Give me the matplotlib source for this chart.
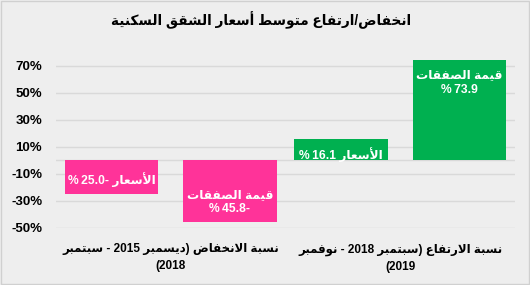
import matplotlib
matplotlib.use("Agg")
import matplotlib.pyplot as plt
from matplotlib.patches import Rectangle

# ---------------- Arabic shaping helpers (matplotlib has no shaping/bidi) ----
_F = {
    '\u0621': (0xFE80,), '\u0622': (0xFE81, 0xFE82), '\u0623': (0xFE83, 0xFE84),
    '\u0624': (0xFE85, 0xFE86), '\u0625': (0xFE87, 0xFE88),
    '\u0626': (0xFE89, 0xFE8A, 0xFE8B, 0xFE8C), '\u0627': (0xFE8D, 0xFE8E),
    '\u0628': (0xFE8F, 0xFE90, 0xFE91, 0xFE92), '\u0629': (0xFE93, 0xFE94),
    '\u062A': (0xFE95, 0xFE96, 0xFE97, 0xFE98), '\u062B': (0xFE99, 0xFE9A, 0xFE9B, 0xFE9C),
    '\u062C': (0xFE9D, 0xFE9E, 0xFE9F, 0xFEA0), '\u062D': (0xFEA1, 0xFEA2, 0xFEA3, 0xFEA4),
    '\u062E': (0xFEA5, 0xFEA6, 0xFEA7, 0xFEA8), '\u062F': (0xFEA9, 0xFEAA),
    '\u0630': (0xFEAB, 0xFEAC), '\u0631': (0xFEAD, 0xFEAE), '\u0632': (0xFEAF, 0xFEB0),
    '\u0633': (0xFEB1, 0xFEB2, 0xFEB3, 0xFEB4), '\u0634': (0xFEB5, 0xFEB6, 0xFEB7, 0xFEB8),
    '\u0635': (0xFEB9, 0xFEBA, 0xFEBB, 0xFEBC), '\u0636': (0xFEBD, 0xFEBE, 0xFEBF, 0xFEC0),
    '\u0637': (0xFEC1, 0xFEC2, 0xFEC3, 0xFEC4), '\u0638': (0xFEC5, 0xFEC6, 0xFEC7, 0xFEC8),
    '\u0639': (0xFEC9, 0xFECA, 0xFECB, 0xFECC), '\u063A': (0xFECD, 0xFECE, 0xFECF, 0xFED0),
    '\u0641': (0xFED1, 0xFED2, 0xFED3, 0xFED4), '\u0642': (0xFED5, 0xFED6, 0xFED7, 0xFED8),
    '\u0643': (0xFED9, 0xFEDA, 0xFEDB, 0xFEDC), '\u0644': (0xFEDD, 0xFEDE, 0xFEDF, 0xFEE0),
    '\u0645': (0xFEE1, 0xFEE2, 0xFEE3, 0xFEE4), '\u0646': (0xFEE5, 0xFEE6, 0xFEE7, 0xFEE8),
    '\u0647': (0xFEE9, 0xFEEA, 0xFEEB, 0xFEEC), '\u0648': (0xFEED, 0xFEEE),
    '\u0649': (0xFEEF, 0xFEF0), '\u064A': (0xFEF1, 0xFEF2, 0xFEF3, 0xFEF4),
}
_LIG = {'\u0622': (0xFEF5, 0xFEF6), '\u0623': (0xFEF7, 0xFEF8),
        '\u0625': (0xFEF9, 0xFEFA), '\u0627': (0xFEFB, 0xFEFC)}


def _shape(s):
    toks = []
    i = 0
    while i < len(s):
        c = s[i]
        if c == '\u0644' and i + 1 < len(s) and s[i + 1] in _LIG:
            toks.append(('L', s[i + 1]))
            i += 2
        else:
            toks.append(('C', c))
            i += 1

    def jn(t):
        return t[0] == 'C' and t[1] in _F and len(_F[t[1]]) == 4

    def jp(t):
        return t[0] == 'L' or (t[1] in _F and len(_F[t[1]]) >= 2)

    out = []
    for k, t in enumerate(toks):
        p = toks[k - 1] if k > 0 else None
        n = toks[k + 1] if k + 1 < len(toks) else None
        a = p is not None and jn(p) and jp(t)
        b = n is not None and jn(t) and jp(n)
        if t[0] == 'L':
            out.append(chr(_LIG[t[1]][1 if a else 0]))
        elif t[1] in _F:
            f = _F[t[1]]
            if len(f) == 1:
                out.append(chr(f[0]))
            elif len(f) == 2:
                out.append(chr(f[1] if a else f[0]))
            else:
                if a and b:
                    out.append(chr(f[3]))
                elif a:
                    out.append(chr(f[1]))
                elif b:
                    out.append(chr(f[2]))
                else:
                    out.append(chr(f[0]))
        else:
            out.append(t[1])
    return ''.join(out)


def rtl(s):
    return _shape(s)[::-1]


# ---------------- data ----------------
title = "انخفاض/ارتفاع متوسط أسعار الشقق السكنية"
price_name = "الأسعار"
deals_name = "قيمة الصفقات"
price_values = [-25.0, 16.1]
deals_values = [-45.8, 73.9]
group_colors = ["#FF3399", "#00B050"]
cat_line1 = [
    rtl("سبتمبر") + " - 2015 " + rtl("ديسمبر") + ") " + rtl("نسبة الانخفاض"),
    rtl("نوفمبر") + " - 2018 " + rtl("سبتمبر") + ") " + rtl("نسبة الارتفاع"),
]
cat_line2 = ["(2018", "(2019"]
yticks = [-50, -30, -10, 10, 30, 50, 70]


def pct(v):
    return "%\u2009" + f"{abs(v):.1f}" + ("-" if v < 0 else "")


# ---------------- plot ----------------
plt.rcParams['font.family'] = ['Liberation Sans', 'DejaVu Sans']
bg = "#EEEEEE"
fig = plt.figure(figsize=(5.3, 2.85), dpi=100, facecolor=bg)
fig.patches.append(Rectangle((0.001, 0.002), 0.997, 0.995, transform=fig.transFigure,
                             fill=False, edgecolor="#D0D0D0", linewidth=1))
ax = fig.add_axes([0.1057, 0.2, 0.866, 0.6175])
ax.set_facecolor("none")

ax.set_xlim(-0.5, 1.5)
ax.set_ylim(-50, 80)
for sp in ax.spines.values():
    sp.set_visible(False)
ax.set_yticks(yticks)
ax.set_yticklabels([f"{t}%" for t in yticks], fontsize=9.5, fontweight='bold')
ax.tick_params(axis='y', length=0, pad=10)
ax.set_xticks([])
ax.yaxis.grid(True, color="#D9D9D9", linewidth=1)
ax.set_axisbelow(True)
ax.axhline(0, color="#D9D9D9", linewidth=1, zorder=1)

off = 0.258
w = 0.406
for g in range(2):
    for k, (vals, name) in enumerate([(price_values, price_name), (deals_values, deals_name)]):
        v = vals[g]
        x = g + (-off if k == 0 else off)
        ax.bar(x, v, width=w, color=group_colors[g], zorder=2)
        if k == 0:
            txt = pct(v) + " " + rtl(name)
        else:
            txt = rtl(name) + "\n" + pct(v)
        if v < 0:
            ax.annotate(txt, (x, v), xytext=(0, 5), textcoords='offset points',
                        ha='center', va='bottom', color='white', fontsize=8.7,
                        fontweight='bold', linespacing=1.25, zorder=3)
        else:
            ax.annotate(txt, (x, v), xytext=(0, -6.5), textcoords='offset points',
                        ha='center', va='top', color='white', fontsize=8.7,
                        fontweight='bold', linespacing=1.25, zorder=3)

for g in range(2):
    ax.annotate(cat_line1[g] + "\n" + cat_line2[g], (g, -50), xytext=(0, -11),
                textcoords='offset points', ha='center', va='top', fontsize=8.5,
                fontweight='bold', linespacing=1.55, annotation_clip=False)

fig.text(0.493, 0.93, rtl(title), ha='center', va='center', fontsize=9.8,
         fontweight='bold')

fig.savefig("out.png", dpi=100, facecolor=bg)
